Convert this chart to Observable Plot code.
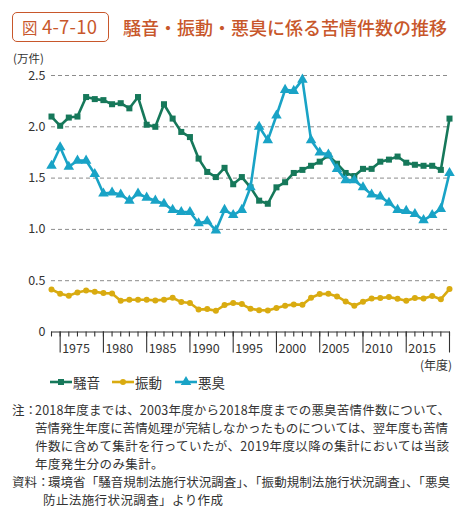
<!DOCTYPE html>
<html><head><meta charset="utf-8">
<script src="https://cdn.jsdelivr.net/npm/d3@7"></script>
<script src="https://cdn.jsdelivr.net/npm/@observablehq/plot@0.6"></script>
<style>
html,body{margin:0;padding:0;background:#fff}
body{width:464px;height:508px;position:relative;overflow:hidden;font-family:"Noto Sans CJK JP","Noto Sans",sans-serif;color:#333}
#badge{position:absolute;left:12px;top:12px;width:95px;height:28px;border:1.6px solid #c8572b;border-radius:5px;color:#c8572b;font-size:18px;line-height:28px;white-space:nowrap}
#badge .z{position:absolute;left:9px;top:0;font-size:15.5px}
#badge .n{position:absolute;left:29px;top:-1px;font-size:18.5px;letter-spacing:0.2px}
#title{position:absolute;left:123px;top:14px;font-size:18px;line-height:26px;color:#c8572b;white-space:nowrap;font-weight:500}
#chart{position:absolute;left:0;top:50px}
#unit{position:absolute;left:13px;top:52px;font-size:11.5px;line-height:12px}
#nendo{position:absolute;left:420px;top:357px;font-size:12px;line-height:16px}
#legend{position:absolute;left:0;top:372px;height:20px;width:464px}
.lg{position:absolute;top:0;height:20px;font-size:13.5px;line-height:20px;white-space:nowrap}
.lg svg{position:absolute;left:0;top:0}
.lg span{position:absolute;top:0}
.ln{position:absolute;height:14px;line-height:14px;font-size:12.5px;white-space:nowrap}
</style></head><body>
<div id="badge"><span class="z">図</span><span class="n">4-7-10</span></div>
<div id="title">騒音・振動・悪臭に係る苦情件数の推移</div>
<div id="chart"></div>
<div id="unit">(万件)</div>
<div id="nendo">(年度)</div>
<div id="legend"></div>
<div class="ln" style="left:12px;top:403px">注：</div>
<div class="ln fit" data-w="415" style="left:35px;top:403px">2018年度までは、2003年度から2018年度までの悪臭苦情件数について、</div>
<div class="ln fit" data-w="413" style="left:35px;top:421px">苦情発生年度に苦情処理が完結しなかったものについては、翌年度も苦情</div>
<div class="ln fit" data-w="414" style="left:35px;top:439px">件数に含めて集計を行っていたが、2019年度以降の集計においては当該</div>
<div class="ln" style="left:35px;top:457px;letter-spacing:0.4px">年度発生分のみ集計。</div>
<div class="ln" style="left:12px;top:475px">資料：</div>
<div class="ln fit" data-w="402" style="left:48px;top:475px">環境省「騒音規制法施行状況調査」、「振動規制法施行状況調査」、「悪臭</div>
<div class="ln" style="left:43px;top:492.5px;letter-spacing:0.4px">防止法施行状況調査」より作成</div>
<script>
// ---- data (万件) ----
const years = [1974,1975,1976,1977,1978,1979,1980,1981,1982,1983,1984,1985,1986,1987,1988,1989,1990,1991,1992,1993,1994,1995,1996,1997,1998,1999,2000,2001,2002,2003,2004,2005,2006,2007,2008,2009,2010,2011,2012,2013,2014,2015,2016,2017,2018,2019,2020];
const noise = [2.10,2.01,2.09,2.10,2.29,2.27,2.26,2.22,2.23,2.18,2.29,2.02,2.00,2.22,2.08,1.95,1.90,1.69,1.56,1.51,1.60,1.44,1.51,1.41,1.28,1.25,1.41,1.46,1.55,1.58,1.62,1.66,1.72,1.64,1.55,1.52,1.59,1.59,1.66,1.68,1.71,1.65,1.63,1.62,1.62,1.58,2.08];
const vibration = [0.415,0.373,0.353,0.386,0.405,0.392,0.379,0.376,0.305,0.314,0.314,0.314,0.308,0.314,0.334,0.292,0.282,0.220,0.223,0.207,0.262,0.282,0.272,0.226,0.213,0.210,0.233,0.256,0.269,0.265,0.334,0.370,0.373,0.347,0.298,0.256,0.295,0.327,0.331,0.340,0.324,0.305,0.331,0.327,0.350,0.320,0.418];
const odor = [1.62,1.80,1.61,1.67,1.67,1.54,1.35,1.36,1.34,1.28,1.35,1.31,1.28,1.25,1.19,1.17,1.17,1.06,1.08,0.99,1.19,1.14,1.19,1.41,2.00,1.87,2.11,2.36,2.35,2.46,1.87,1.75,1.73,1.59,1.48,1.48,1.41,1.34,1.32,1.26,1.19,1.18,1.15,1.09,1.14,1.20,1.55];
const seriesNames = ["騒音","振動","悪臭"];
const seriesColors = ["#16785a","#d9ab10","#19a3c6"];
const seriesSymbols = ["square","circle","triangle"];
const yTicks = [0,0.5,1.0,1.5,2.0,2.5];
const labelYears = [1975,1980,1985,1990,1995,2000,2005,2010,2015];
const longTickYears = [1975,1980,1985,1990,1995,2000,2005,2010,2015,2020];

const seriesValues = [noise, vibration, odor];
const tables = seriesValues.map(vals => years.map((yr, i) => ({year: yr, value: vals[i]})));
const x0 = years[0], x1 = years[years.length - 1];
const fmt = d => d === 0 ? "0" : d3.format(".1f")(d);
const sizes = [3.4, 3.0, 3.9];

const marks = [
  Plot.ruleY(yTicks.filter(d => d > 0), {x1: x0, x2: x1, stroke: "#8c8c8c", strokeWidth: 1, strokeDasharray: "4,3"}),
  Plot.ruleY([0], {x1: x0, x2: x1, stroke: "#333", strokeWidth: 1.2}),
  Plot.axisX({ticks: years, tickSize: 5, tickFormat: () => "", label: null, stroke: "#333", strokeWidth: 1.1}),
  Plot.axisX({ticks: longTickYears, tickSize: 21, tickFormat: () => "", label: null, stroke: "#333", strokeWidth: 1.1}),
  Plot.text(labelYears, {x: d => d, y: 0, text: d => String(d), dx: 2, dy: 17, textAnchor: "start", fill: "#333", fontSize: 12.5}),
  Plot.text(yTicks, {x: x0, y: d => d, text: fmt, dx: -6, textAnchor: "end", fill: "#333", fontSize: 12.5})
];
tables.forEach((t, k) => {
  marks.push(Plot.line(t, {x: "year", y: "value", stroke: seriesColors[k], strokeWidth: 2.6}));
  marks.push(Plot.dot(t, {x: "year", y: "value", symbol: seriesSymbols[k], r: sizes[k], fill: seriesColors[k], stroke: "none"}));
});

const chart = Plot.plot({
  width: 464, height: 330,
  marginTop: 25, marginBottom: 48.5, marginLeft: 51, marginRight: 15,
  x: {domain: [x0, x1], axis: null},
  y: {domain: [0, 2.5], axis: null},
  style: {fontFamily: '"Noto Sans CJK JP", sans-serif', fontSize: "12.5px", color: "#333", background: "transparent", overflow: "visible"},
  marks
});
document.getElementById("chart").appendChild(chart);

// legend
const legend = document.getElementById("legend");
const lgX = [50, 112, 175];
seriesNames.forEach((name, k) => {
  const d = document.createElement("div");
  d.className = "lg";
  d.style.left = lgX[k] + "px";
  const sym = d3.symbol(d3[{square: "symbolSquare", circle: "symbolCircle", triangle: "symbolTriangle"}[seriesSymbols[k]]], Math.PI * sizes[k] * sizes[k])();
  d.innerHTML = `<svg width="24" height="20"><line x1="0" x2="22" y1="10" y2="10" stroke="${seriesColors[k]}" stroke-width="2.6"/><path transform="translate(11,10)" d="${sym}" fill="${seriesColors[k]}"/></svg><span style="left:23px">${name}</span>`;
  legend.appendChild(d);
});

// fit note lines to their justified widths
document.querySelectorAll(".fit").forEach(el => {
  const target = +el.dataset.w;
  const natural = el.getBoundingClientRect().width;
  const n = Array.from(el.textContent).length;
  const ls = (target - natural) / Math.max(1, n - 1);
  el.style.letterSpacing = ls + "px";
});
</script>
</body></html>
